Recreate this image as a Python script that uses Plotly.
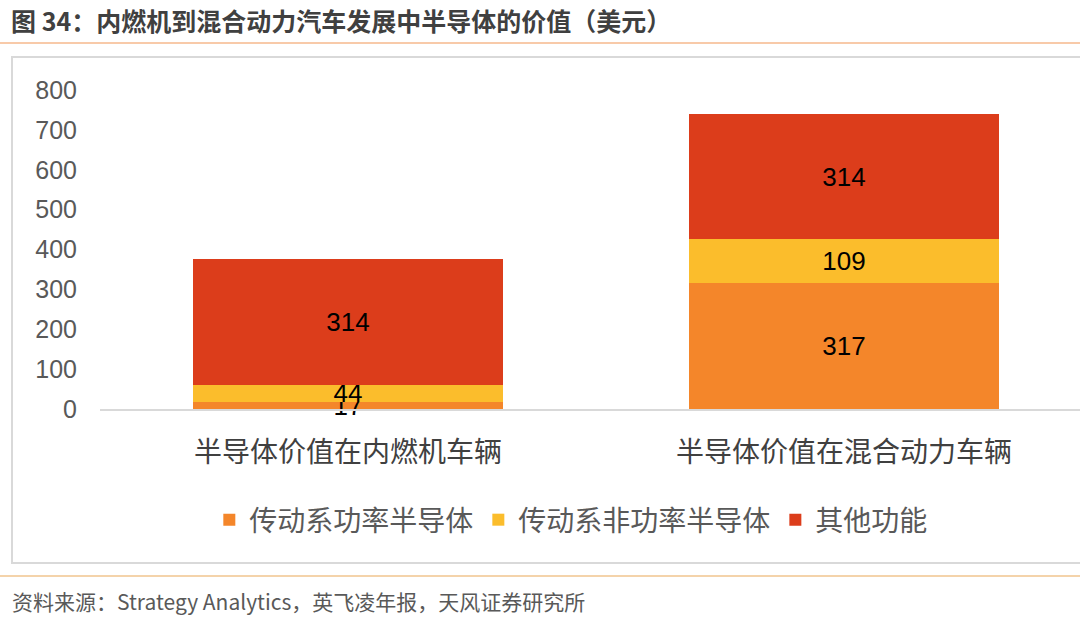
import plotly.graph_objects as go

# data
categories = ["半导体价值在内燃机车辆", "半导体价值在混合动力车辆"]
power_semi = [17, 317]
nonpower_semi = [44, 109]
other_func = [314, 314]
series_names = ["传动系功率半导体", "传动系非功率半导体", "其他功能"]
y_ticks = [0, 100, 200, 300, 400, 500, 600, 700, 800]

colors = ["#F4862A", "#FBBD2C", "#DC3D1B"]
font_fam = "Liberation Sans, Noto Sans CJK SC, sans-serif"
cjk_fam = "Noto Sans CJK SC, sans-serif"

fig = go.Figure()

for name, vals, col in zip(series_names, [power_semi, nonpower_semi, other_func], colors):
    fig.add_trace(go.Bar(
        x=categories,
        y=vals,
        name=name,
        marker=dict(color=col, line=dict(width=0)),
        text=vals,
        textposition="inside",
        insidetextanchor="middle",
        textangle=0,
        cliponaxis=False,
        textfont=dict(size=26, color="#000000", family=font_fam),
    ))

# Layout
fig.update_layout(
    width=1080,
    height=618,
    autosize=False,
    barmode="stack",
    bargap=0.375,
    paper_bgcolor="white",
    plot_bgcolor="white",
    margin=dict(l=0, r=0, t=0, b=0, pad=0, autoexpand=False),
    font=dict(family=font_fam),
    uniformtext=dict(minsize=26, mode="show"),
    showlegend=True,
    legend=dict(
        orientation="h",
        x=0.529, xanchor="center",
        y=0.1586, yanchor="middle",
        font=dict(size=28, color="#595959", family=font_fam),
        itemwidth=30,
        traceorder="normal",
    ),
    xaxis=dict(
        domain=[100 / 1080, 1],
        range=[-0.5, 1.476],
        automargin=False,
        showgrid=False,
        showline=True,
        linecolor="#D9D9D9",
        linewidth=2,
        ticks="",
        ticklabelstandoff=17,
        tickfont=dict(size=28, color="#404040", family=font_fam),
    ),
    yaxis=dict(
        domain=[209 / 618, 528 / 618],
        range=[0, 800],
        automargin=False,
        tickvals=y_ticks,
        showgrid=False,
        zeroline=False,
        showline=False,
        ticks="",
        ticklabelstandoff=22,
        tickfont=dict(size=25, color="#595959", family=font_fam),
    ),
)

# Title and source
fig.add_annotation(
    text="<b>图 34：内燃机到混合动力汽车发展中半导体的价值（美元）</b>",
    xref="paper", yref="paper", x=9 / 1080, y=1 - 20 / 618,
    xanchor="left", yanchor="middle", showarrow=False,
    font=dict(size=25, color="#404040", family=cjk_fam),
)
fig.add_annotation(
    text="资料来源：Strategy Analytics，英飞凌年报，天风证券研究所",
    xref="paper", yref="paper", x=10 / 1080, y=1 - 601 / 618,
    xanchor="left", yanchor="middle", showarrow=False,
    font=dict(size=21, color="#595959", family=cjk_fam),
)

# Decorative lines and chart box
fig.add_shape(type="line", xref="paper", yref="paper",
              x0=0, x1=1, y0=1 - 43 / 618, y1=1 - 43 / 618,
              line=dict(color="#F6B98C", width=1.5))
fig.add_shape(type="line", xref="paper", yref="paper",
              x0=0, x1=1, y0=1 - 576 / 618, y1=1 - 576 / 618,
              line=dict(color="#F0C48E", width=1.5))
fig.add_shape(type="rect", xref="paper", yref="paper",
              x0=12 / 1080, x1=1.01, y0=1 - 563 / 618, y1=1 - 57 / 618,
              line=dict(color="#D9D9D9", width=2))

# page has a default 8px body margin, drop it
fig.write_html("out.html", config={"displayModeBar": False},
               post_script="document.body.style.margin='0';")
